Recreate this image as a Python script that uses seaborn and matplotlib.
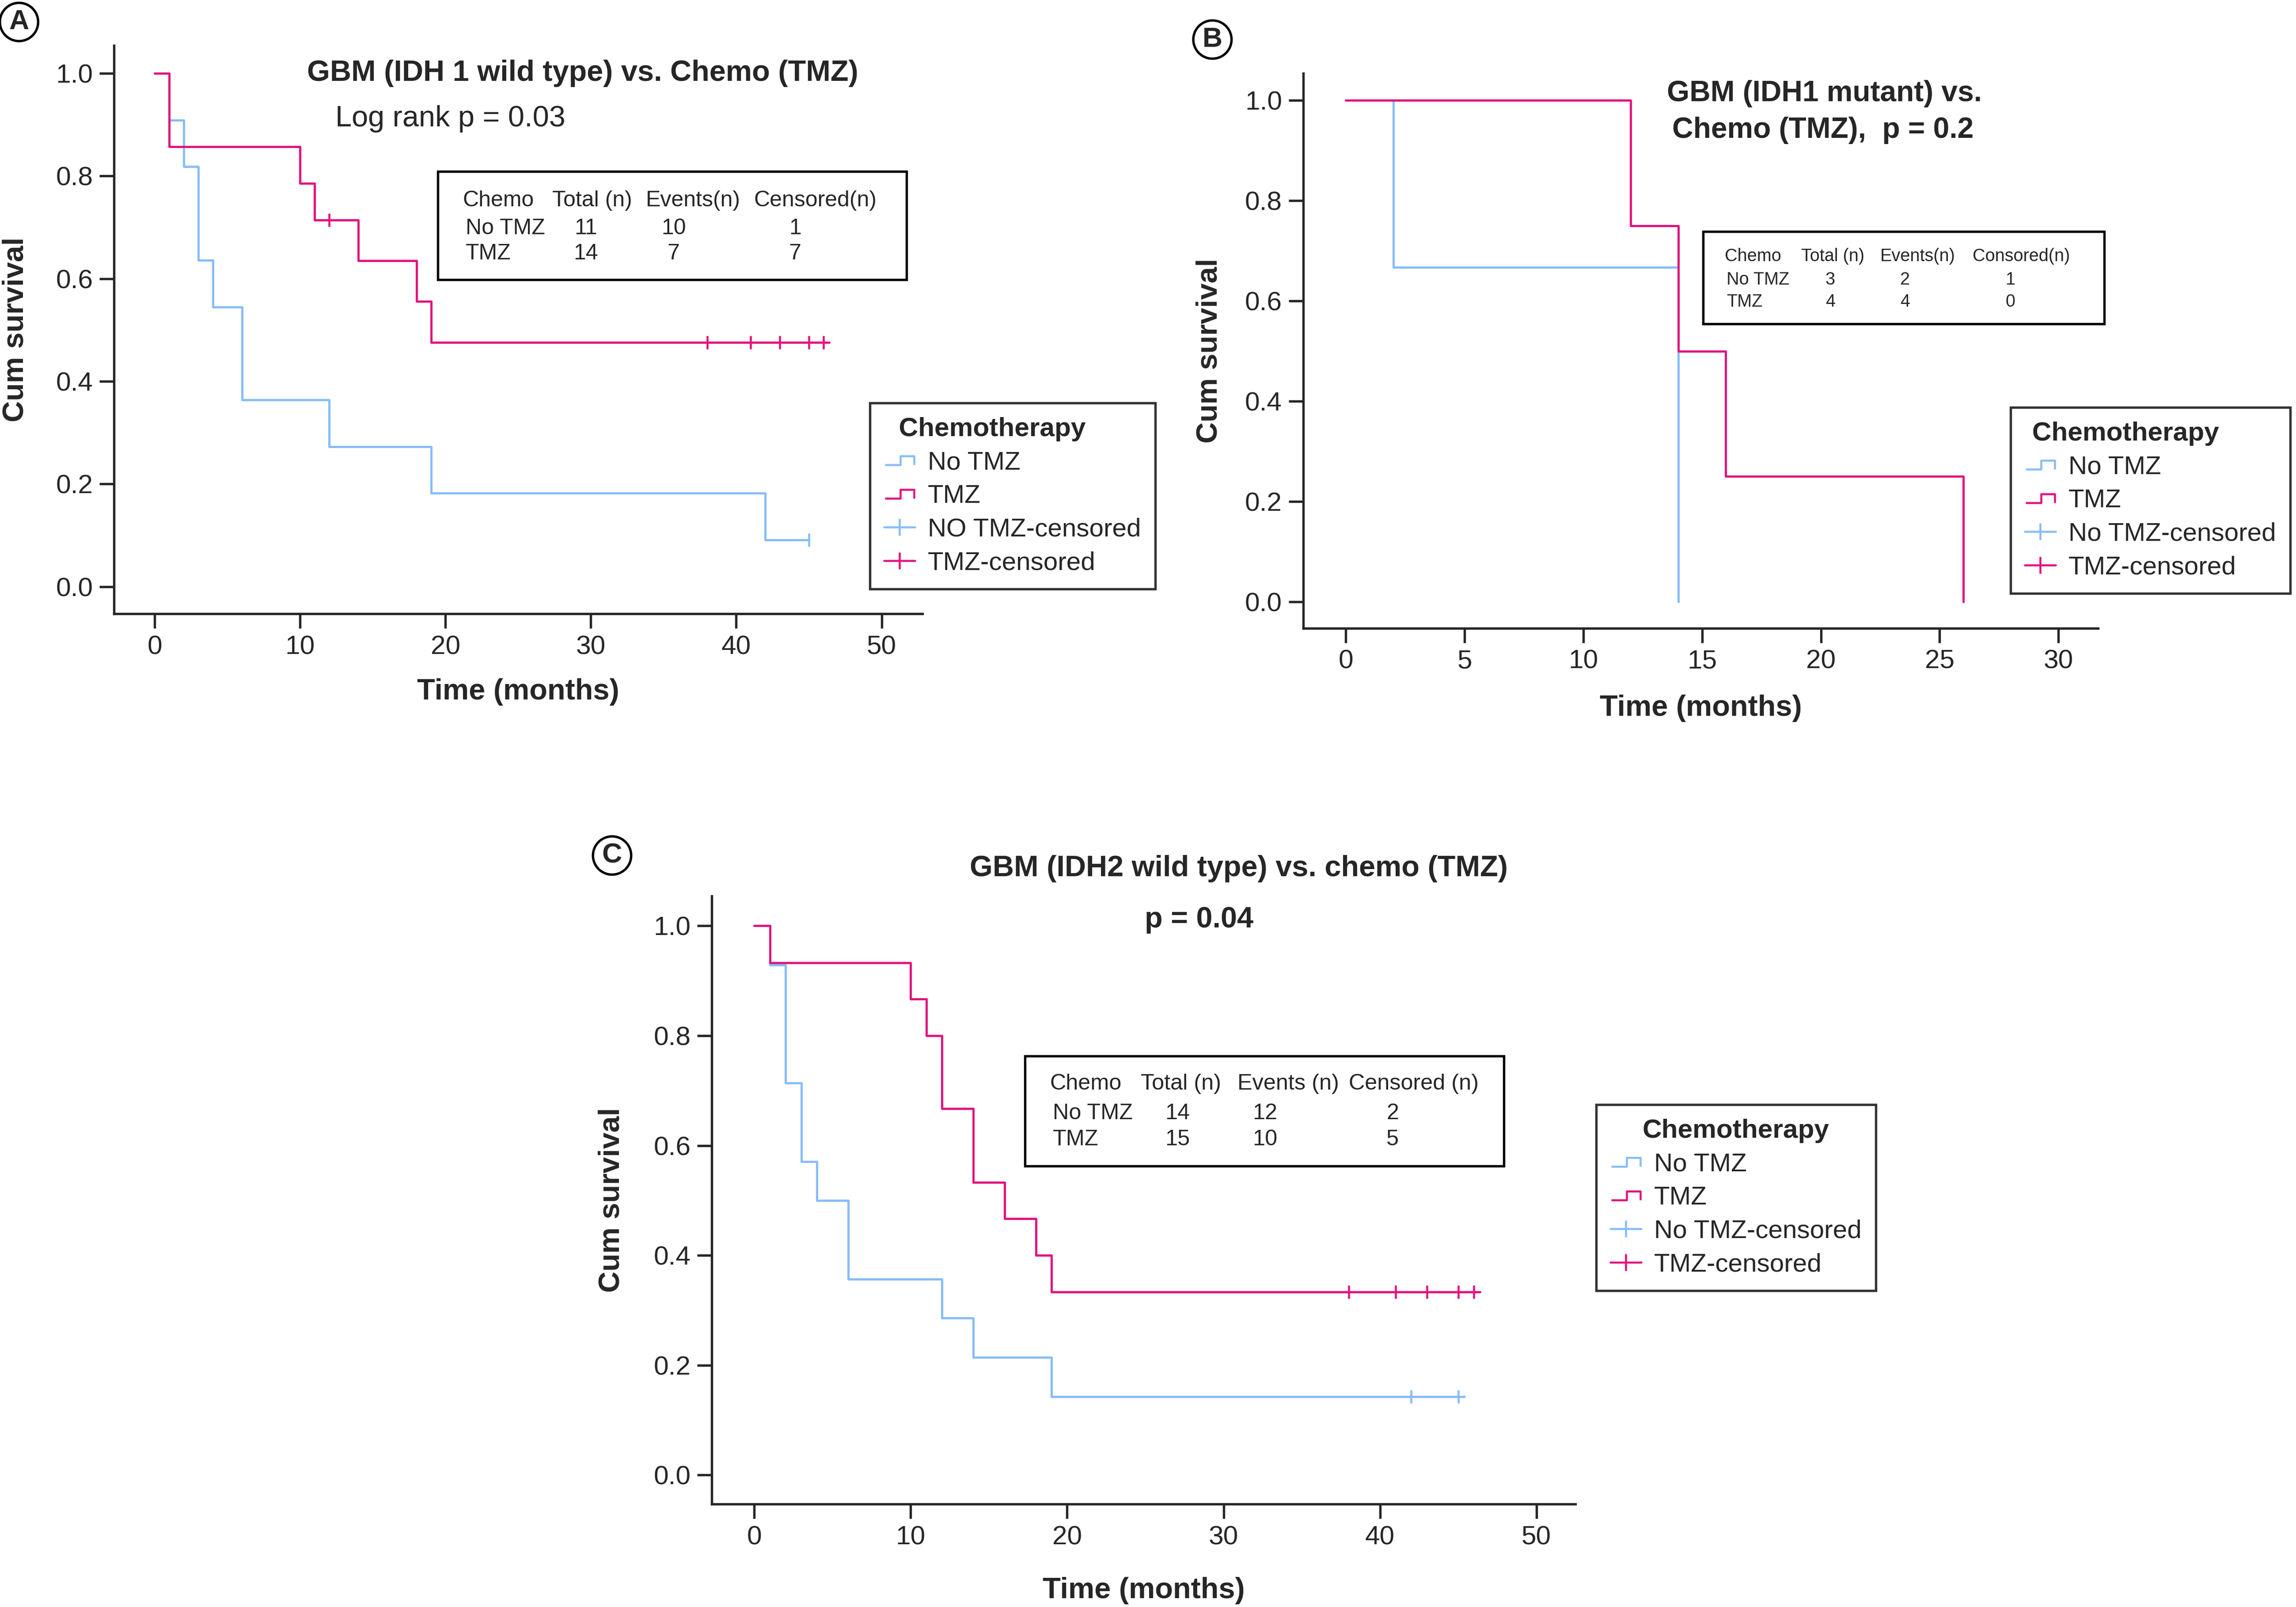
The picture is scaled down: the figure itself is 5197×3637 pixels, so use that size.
import numpy as np
import seaborn as sns
import matplotlib.pyplot as plt
from matplotlib.lines import Line2D
from matplotlib.path import Path
from matplotlib.patches import Rectangle

# ---- data ----
# A: GBM (IDH1 wild type)
a_notmz_t = [0, 1, 2, 3, 4, 6, 12, 19, 42, 45]
a_notmz_s = [1.0, 0.909, 0.818, 0.636, 0.545, 0.364, 0.273, 0.182, 0.091, 0.091]
a_notmz_cens = [45]
a_tmz_t = [0, 1, 10, 11, 14, 18, 19, 46.4]
a_tmz_s = [1.0, 0.857, 0.786, 0.714, 0.635, 0.556, 0.476, 0.476]
a_tmz_cens = [12, 38, 41, 43, 45, 46]

# B: GBM (IDH1 mutant)
b_notmz_t = [0, 2, 14]
b_notmz_s = [1.0, 0.667, 0.0]
b_notmz_cens = []
b_tmz_t = [0, 12, 14, 16, 26]
b_tmz_s = [1.0, 0.75, 0.5, 0.25, 0.0]
b_tmz_cens = []

# C: GBM (IDH2 wild type)
c_notmz_t = [0, 1, 2, 3, 4, 6, 12, 14, 19, 45.4]
c_notmz_s = [1.0, 0.929, 0.714, 0.571, 0.5, 0.357, 0.286, 0.214, 0.143, 0.143]
c_notmz_cens = [42, 45]
c_tmz_t = [0, 1, 10, 11, 12, 14, 16, 18, 19, 46.4]
c_tmz_s = [1.0, 0.933, 0.867, 0.8, 0.667, 0.533, 0.467, 0.4, 0.333, 0.333]
c_tmz_cens = [38, 41, 43, 45, 46]

tab_a_head = ['Chemo', 'Total (n)', 'Events(n)', 'Censored(n)']
tab_a_rows = [['No TMZ', '11', '10', '1'], ['TMZ', '14', '7', '7']]
tab_b_head = ['Chemo', 'Total (n)', 'Events(n)', 'Consored(n)']
tab_b_rows = [['No TMZ', '3', '2', '1'], ['TMZ', '4', '4', '0']]
tab_c_head = ['Chemo', 'Total (n)', 'Events (n)', 'Censored (n)']
tab_c_rows = [['No TMZ', '14', '12', '2'], ['TMZ', '15', '10', '5']]

BLUE = '#87bdf8'
PINK = '#e2137d'
NARROW = ['Liberation Sans Narrow', 'Liberation Sans', 'DejaVu Sans']
WIDE = ['Liberation Sans', 'DejaVu Sans']

sns.set_style('ticks')
plt.rcParams['font.family'] = NARROW
plt.rcParams['axes.linewidth'] = 1.3
plt.rcParams['xtick.major.width'] = 1.3
plt.rcParams['ytick.major.width'] = 1.3
plt.rcParams['xtick.major.size'] = 8
plt.rcParams['ytick.major.size'] = 8
plt.rcParams['xtick.labelsize'] = 14.5
plt.rcParams['ytick.labelsize'] = 14.5

fig = plt.figure(figsize=(5197 / 300, 3637 / 300), dpi=300)


def F(x, y):
    # position measured on the 1568x1097 preview -> figure fraction
    return x / 1568, 1 - y / 1097


def surv_at(ts, times, surv):
    idx = np.searchsorted(times, ts, side='right') - 1
    return np.asarray(surv)[idx]


step_icon = Path([(-1, -0.31), (0.06, -0.31), (0.06, 0.31), (1, 0.31), (1, -0.31)])


def km_panel(rect, xlim, xticks, curves, ylab_x, xlab_y):
    ax = fig.add_axes(rect)
    for t, s, cens, col in curves:
        sns.lineplot(x=t, y=s, drawstyle='steps-post', estimator=None, color=col,
                     lw=1.2, ax=ax, legend=False)
        if len(cens):
            ax.plot(cens, surv_at(cens, t, s), ls='none', marker='|', ms=7,
                    mew=1.1, color=col)
    ax.set_xlim(*xlim)
    ax.set_ylim(-0.053, 1.054)
    ax.set_xticks(xticks)
    ax.set_yticks([0, 0.2, 0.4, 0.6, 0.8, 1.0])
    ax.set_yticklabels(['0.0', '0.2', '0.4', '0.6', '0.8', '1.0'])
    sns.despine(ax=ax)
    ax.set_xlabel('Time (months)', fontsize=16, fontweight='bold')
    ax.set_ylabel('Cum survival', fontsize=16, fontweight='bold', family=WIDE)
    ax.xaxis.set_label_coords(0.5, xlab_y)
    ax.yaxis.set_label_coords(ylab_x, 0.5)
    return ax


def table(box, head_x, num_x, first_x, ys, head, rows, fs):
    (x0, y0), (x1, y1) = F(*box[0]), F(*box[1])
    fig.patches.append(Rectangle((x0, y1), x1 - x0, y0 - y1, transform=fig.transFigure,
                                 fill=False, lw=1.3, ec='black'))
    for hx, h in zip(head_x, head):
        fig.text(*F(hx, ys[0]), h, fontsize=fs, va='center', ha='left')
    for ry, row in zip(ys[1:], rows):
        fig.text(*F(first_x, ry), row[0], fontsize=fs, va='center', ha='left')
        for nx, v in zip(num_x, row[1:]):
            fig.text(*F(nx, ry), v, fontsize=fs, va='center', ha='center')


def km_legend(ax, anchor, censored_label, title, align):
    handles = [
        Line2D([], [], ls='none', marker=step_icon, ms=16, mfc='none', mec=BLUE, mew=1.1),
        Line2D([], [], ls='none', marker=step_icon, ms=16, mfc='none', mec=PINK, mew=1.1),
        Line2D([], [], color=BLUE, lw=1.1, marker='|', ms=9, mew=1.1),
        Line2D([], [], color=PINK, lw=1.1, marker='|', ms=9, mew=1.1),
    ]
    labels = ['No TMZ', 'TMZ', censored_label, 'TMZ-censored']
    leg = ax.legend(handles, labels, title=title, loc='upper left',
                    bbox_to_anchor=F(*anchor), bbox_transform=fig.transFigure,
                    borderaxespad=0, frameon=True, fancybox=False, edgecolor='black',
                    fontsize=14, title_fontproperties={'weight': 'bold', 'size': 14.5},
                    handlelength=1.2, handletextpad=0.5, labelspacing=0.37,
                    borderpad=0.55, numpoints=1, alignment=align)
    leg.get_frame().set_linewidth(1.3)
    return leg


def panel_tag(xy, letter):
    fig.text(*F(*xy), letter, fontsize=15, fontweight='bold', family=WIDE,
             ha='center', va='center',
             bbox=dict(boxstyle='circle,pad=0.22', fc='white', ec='black', lw=1.3))


# ---- panel A ----
axA = km_panel([0.0497, 0.618, 0.352, 0.3536], (-2.8, 52.8), range(0, 51, 10),
               [(a_notmz_t, a_notmz_s, a_notmz_cens, BLUE),
                (a_tmz_t, a_tmz_s, a_tmz_cens, PINK)], -0.105, -0.113)
fig.text(*F(398, 50), 'GBM (IDH 1 wild type) vs. Chemo (TMZ)', fontsize=16,
         fontweight='bold', ha='center', va='center')
fig.text(*F(229, 81), 'Log rank p = 0.03', fontsize=16, ha='left', va='center')
table(((299, 117), (619, 191)), [316, 377, 441, 515], [400, 460, 543], 318,
      [137, 156, 173], tab_a_head, tab_a_rows, 12)
km_legend(axA, (594, 275), 'NO TMZ-censored', '  Chemotherapy', 'left')
panel_tag((13, 15), 'A')

# ---- panel B ----
axB = km_panel([0.5676, 0.609, 0.3462, 0.3453], (-1.79, 31.67), range(0, 31, 5),
               [(b_notmz_t, b_notmz_s, b_notmz_cens, BLUE),
                (b_tmz_t, b_tmz_s, b_tmz_cens, PINK)], -0.101, -0.119)
fig.text(*F(1246, 64), 'GBM (IDH1 mutant) vs.', fontsize=15.8, fontweight='bold',
         ha='center', va='center')
fig.text(*F(1245, 89), 'Chemo (TMZ),  p = 0.2', fontsize=15.8, fontweight='bold',
         ha='center', va='center')
table(((1163, 158), (1437, 221)), [1178, 1230, 1284, 1347], [1250, 1301, 1373], 1179,
      [175, 191, 206], tab_b_head, tab_b_rows, 9.5)
km_legend(axB, (1373, 278), 'No TMZ-censored', ' Chemotherapy', 'left')
panel_tag((828, 27), 'B')

# ---- panel C ----
axC = km_panel([0.31, 0.064, 0.3762, 0.3783], (-2.72, 52.5), range(0, 51, 10),
               [(c_notmz_t, c_notmz_s, c_notmz_cens, BLUE),
                (c_tmz_t, c_tmz_s, c_tmz_cens, PINK)], -0.1, -0.12)
fig.text(*F(846, 593), 'GBM (IDH2 wild type) vs. chemo (TMZ)', fontsize=16,
         fontweight='bold', ha='center', va='center')
fig.text(*F(819, 628), 'p = 0.04', fontsize=16, fontweight='bold',
         ha='center', va='center')
table(((700, 721), (1027, 796)), [717, 779, 845, 921], [804, 864, 951], 719,
      [740, 760, 778], tab_c_head, tab_c_rows, 12.1)
km_legend(axC, (1090, 754), 'No TMZ-censored', 'Chemotherapy', 'center')
panel_tag((418, 584), 'C')

fig.savefig('out.png', dpi=300)
